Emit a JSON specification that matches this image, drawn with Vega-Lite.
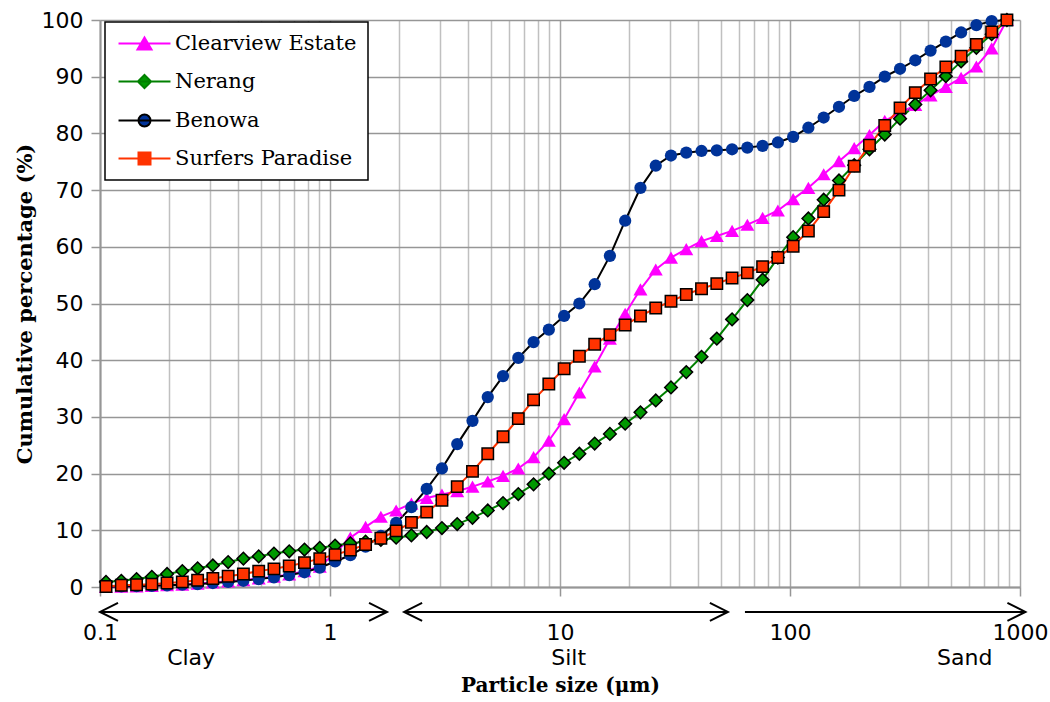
{
  "$schema": "https://vega.github.io/schema/vega-lite/v6.json",
  "width": 920,
  "height": 567,
  "autosize": "none",
  "padding": {"left": 100, "top": 20, "right": 30, "bottom": 115},
  "background": "white",
  "config": {
    "view": {"stroke": null},
    "legend": {"strokeWidth": 1.5}
  },
  "layer": [
    {
      "data": {"values": [
        {"series":"Clearview Estate","size":0.1062,"pct":0.0},{"series":"Clearview Estate","size":0.1238,"pct":0.05},{"series":"Clearview Estate","size":0.1442,"pct":0.1},{"series":"Clearview Estate","size":0.168,"pct":0.2},{"series":"Clearview Estate","size":0.1957,"pct":0.3},{"series":"Clearview Estate","size":0.228,"pct":0.4},{"series":"Clearview Estate","size":0.2657,"pct":0.6},{"series":"Clearview Estate","size":0.3095,"pct":0.8},{"series":"Clearview Estate","size":0.3607,"pct":1.0},{"series":"Clearview Estate","size":0.4202,"pct":1.2},
        {"series":"Clearview Estate","size":0.4898,"pct":1.5},{"series":"Clearview Estate","size":0.5706,"pct":1.8},{"series":"Clearview Estate","size":0.6648,"pct":2.2},{"series":"Clearview Estate","size":0.7746,"pct":2.8},{"series":"Clearview Estate","size":0.9028,"pct":3.6},{"series":"Clearview Estate","size":1.052,"pct":6.0},{"series":"Clearview Estate","size":1.226,"pct":8.7},{"series":"Clearview Estate","size":1.428,"pct":10.6},{"series":"Clearview Estate","size":1.664,"pct":12.4},{"series":"Clearview Estate","size":1.939,"pct":13.5},
        {"series":"Clearview Estate","size":2.259,"pct":14.7},{"series":"Clearview Estate","size":2.633,"pct":15.7},{"series":"Clearview Estate","size":3.067,"pct":16.3},{"series":"Clearview Estate","size":3.574,"pct":16.9},{"series":"Clearview Estate","size":4.164,"pct":17.7},{"series":"Clearview Estate","size":4.852,"pct":18.6},{"series":"Clearview Estate","size":5.653,"pct":19.6},{"series":"Clearview Estate","size":6.587,"pct":20.9},{"series":"Clearview Estate","size":7.674,"pct":22.9},{"series":"Clearview Estate","size":8.942,"pct":25.8},
        {"series":"Clearview Estate","size":10.42,"pct":29.6},{"series":"Clearview Estate","size":12.14,"pct":34.3},{"series":"Clearview Estate","size":14.15,"pct":38.9},{"series":"Clearview Estate","size":16.48,"pct":43.8},{"series":"Clearview Estate","size":19.2,"pct":48.2},{"series":"Clearview Estate","size":22.38,"pct":52.5},{"series":"Clearview Estate","size":26.08,"pct":56.0},{"series":"Clearview Estate","size":30.38,"pct":58.1},{"series":"Clearview Estate","size":35.4,"pct":59.6},{"series":"Clearview Estate","size":41.24,"pct":61.0},
        {"series":"Clearview Estate","size":48.06,"pct":61.9},{"series":"Clearview Estate","size":56.0,"pct":62.8},{"series":"Clearview Estate","size":65.25,"pct":63.9},{"series":"Clearview Estate","size":76.02,"pct":65.1},{"series":"Clearview Estate","size":88.58,"pct":66.4},{"series":"Clearview Estate","size":103.2,"pct":68.4},{"series":"Clearview Estate","size":120.2,"pct":70.4},{"series":"Clearview Estate","size":140.1,"pct":72.8},{"series":"Clearview Estate","size":163.3,"pct":75.1},{"series":"Clearview Estate","size":190.2,"pct":77.4},
        {"series":"Clearview Estate","size":221.6,"pct":79.7},{"series":"Clearview Estate","size":258.2,"pct":82.2},{"series":"Clearview Estate","size":300.9,"pct":83.6},{"series":"Clearview Estate","size":350.6,"pct":85.0},{"series":"Clearview Estate","size":408.5,"pct":86.7},{"series":"Clearview Estate","size":476.0,"pct":88.2},{"series":"Clearview Estate","size":554.6,"pct":89.8},{"series":"Clearview Estate","size":646.1,"pct":91.8},{"series":"Clearview Estate","size":753.0,"pct":95.0},{"series":"Clearview Estate","size":877.3,"pct":100},

        {"series":"Nerang","size":0.1062,"pct":0.9},{"series":"Nerang","size":0.1238,"pct":1.1},{"series":"Nerang","size":0.1442,"pct":1.4},{"series":"Nerang","size":0.168,"pct":1.8},{"series":"Nerang","size":0.1957,"pct":2.3},{"series":"Nerang","size":0.228,"pct":2.8},{"series":"Nerang","size":0.2657,"pct":3.3},{"series":"Nerang","size":0.3095,"pct":3.8},{"series":"Nerang","size":0.3607,"pct":4.4},{"series":"Nerang","size":0.4202,"pct":5.0},
        {"series":"Nerang","size":0.4898,"pct":5.4},{"series":"Nerang","size":0.5706,"pct":5.9},{"series":"Nerang","size":0.6648,"pct":6.3},{"series":"Nerang","size":0.7746,"pct":6.6},{"series":"Nerang","size":0.9028,"pct":6.9},{"series":"Nerang","size":1.052,"pct":7.3},{"series":"Nerang","size":1.226,"pct":7.7},{"series":"Nerang","size":1.428,"pct":8.0},{"series":"Nerang","size":1.664,"pct":8.3},{"series":"Nerang","size":1.939,"pct":8.7},
        {"series":"Nerang","size":2.259,"pct":9.1},{"series":"Nerang","size":2.633,"pct":9.7},{"series":"Nerang","size":3.067,"pct":10.4},{"series":"Nerang","size":3.574,"pct":11.1},{"series":"Nerang","size":4.164,"pct":12.2},{"series":"Nerang","size":4.852,"pct":13.5},{"series":"Nerang","size":5.653,"pct":14.8},{"series":"Nerang","size":6.587,"pct":16.4},{"series":"Nerang","size":7.674,"pct":18.1},{"series":"Nerang","size":8.942,"pct":20.0},
        {"series":"Nerang","size":10.42,"pct":21.9},{"series":"Nerang","size":12.14,"pct":23.5},{"series":"Nerang","size":14.15,"pct":25.3},{"series":"Nerang","size":16.48,"pct":27.0},{"series":"Nerang","size":19.2,"pct":28.8},{"series":"Nerang","size":22.38,"pct":30.8},{"series":"Nerang","size":26.08,"pct":32.9},{"series":"Nerang","size":30.38,"pct":35.2},{"series":"Nerang","size":35.4,"pct":37.9},{"series":"Nerang","size":41.24,"pct":40.6},
        {"series":"Nerang","size":48.06,"pct":43.8},{"series":"Nerang","size":56.0,"pct":47.2},{"series":"Nerang","size":65.25,"pct":50.6},{"series":"Nerang","size":76.02,"pct":54.2},{"series":"Nerang","size":88.58,"pct":58.1},{"series":"Nerang","size":103.2,"pct":61.7},{"series":"Nerang","size":120.2,"pct":65.0},{"series":"Nerang","size":140.1,"pct":68.3},{"series":"Nerang","size":163.3,"pct":71.7},{"series":"Nerang","size":190.2,"pct":74.4},
        {"series":"Nerang","size":221.6,"pct":77.2},{"series":"Nerang","size":258.2,"pct":79.8},{"series":"Nerang","size":300.9,"pct":82.6},{"series":"Nerang","size":350.6,"pct":85.1},{"series":"Nerang","size":408.5,"pct":87.6},{"series":"Nerang","size":476.0,"pct":90.1},{"series":"Nerang","size":554.6,"pct":92.7},{"series":"Nerang","size":646.1,"pct":95.1},{"series":"Nerang","size":753.0,"pct":97.5},{"series":"Nerang","size":877.3,"pct":100},

        {"series":"Benowa","size":0.1062,"pct":0.05},{"series":"Benowa","size":0.1238,"pct":0.1},{"series":"Benowa","size":0.1442,"pct":0.15},{"series":"Benowa","size":0.168,"pct":0.2},{"series":"Benowa","size":0.1957,"pct":0.3},{"series":"Benowa","size":0.228,"pct":0.4},{"series":"Benowa","size":0.2657,"pct":0.5},{"series":"Benowa","size":0.3095,"pct":0.7},{"series":"Benowa","size":0.3607,"pct":0.9},{"series":"Benowa","size":0.4202,"pct":1.1},
        {"series":"Benowa","size":0.4898,"pct":1.4},{"series":"Benowa","size":0.5706,"pct":1.7},{"series":"Benowa","size":0.6648,"pct":2.1},{"series":"Benowa","size":0.7746,"pct":2.6},{"series":"Benowa","size":0.9028,"pct":3.4},{"series":"Benowa","size":1.052,"pct":4.5},{"series":"Benowa","size":1.226,"pct":5.6},{"series":"Benowa","size":1.428,"pct":7.1},{"series":"Benowa","size":1.664,"pct":9.0},{"series":"Benowa","size":1.939,"pct":11.3},
        {"series":"Benowa","size":2.259,"pct":14.1},{"series":"Benowa","size":2.633,"pct":17.3},{"series":"Benowa","size":3.067,"pct":20.9},{"series":"Benowa","size":3.574,"pct":25.2},{"series":"Benowa","size":4.164,"pct":29.3},{"series":"Benowa","size":4.852,"pct":33.5},{"series":"Benowa","size":5.653,"pct":37.2},{"series":"Benowa","size":6.587,"pct":40.4},{"series":"Benowa","size":7.674,"pct":43.2},{"series":"Benowa","size":8.942,"pct":45.4},
        {"series":"Benowa","size":10.42,"pct":47.8},{"series":"Benowa","size":12.14,"pct":50.0},{"series":"Benowa","size":14.15,"pct":53.4},{"series":"Benowa","size":16.48,"pct":58.4},{"series":"Benowa","size":19.2,"pct":64.6},{"series":"Benowa","size":22.38,"pct":70.4},{"series":"Benowa","size":26.08,"pct":74.3},{"series":"Benowa","size":30.38,"pct":76.1},{"series":"Benowa","size":35.4,"pct":76.6},{"series":"Benowa","size":41.24,"pct":76.9},
        {"series":"Benowa","size":48.06,"pct":77.0},{"series":"Benowa","size":56.0,"pct":77.2},{"series":"Benowa","size":65.25,"pct":77.5},{"series":"Benowa","size":76.02,"pct":77.8},{"series":"Benowa","size":88.58,"pct":78.4},{"series":"Benowa","size":103.2,"pct":79.4},{"series":"Benowa","size":120.2,"pct":81.0},{"series":"Benowa","size":140.1,"pct":82.8},{"series":"Benowa","size":163.3,"pct":84.7},{"series":"Benowa","size":190.2,"pct":86.6},
        {"series":"Benowa","size":221.6,"pct":88.2},{"series":"Benowa","size":258.2,"pct":90.0},{"series":"Benowa","size":300.9,"pct":91.4},{"series":"Benowa","size":350.6,"pct":92.9},{"series":"Benowa","size":408.5,"pct":94.6},{"series":"Benowa","size":476.0,"pct":96.2},{"series":"Benowa","size":554.6,"pct":97.8},{"series":"Benowa","size":646.1,"pct":99.1},{"series":"Benowa","size":753.0,"pct":99.8},{"series":"Benowa","size":877.3,"pct":100},

        {"series":"Surfers Paradise","size":0.1062,"pct":0.1},{"series":"Surfers Paradise","size":0.1238,"pct":0.3},{"series":"Surfers Paradise","size":0.1442,"pct":0.4},{"series":"Surfers Paradise","size":0.168,"pct":0.5},{"series":"Surfers Paradise","size":0.1957,"pct":0.7},{"series":"Surfers Paradise","size":0.228,"pct":0.9},{"series":"Surfers Paradise","size":0.2657,"pct":1.2},{"series":"Surfers Paradise","size":0.3095,"pct":1.5},{"series":"Surfers Paradise","size":0.3607,"pct":1.9},{"series":"Surfers Paradise","size":0.4202,"pct":2.3},
        {"series":"Surfers Paradise","size":0.4898,"pct":2.8},{"series":"Surfers Paradise","size":0.5706,"pct":3.2},{"series":"Surfers Paradise","size":0.6648,"pct":3.7},{"series":"Surfers Paradise","size":0.7746,"pct":4.3},{"series":"Surfers Paradise","size":0.9028,"pct":5.0},{"series":"Surfers Paradise","size":1.052,"pct":5.7},{"series":"Surfers Paradise","size":1.226,"pct":6.5},{"series":"Surfers Paradise","size":1.428,"pct":7.5},{"series":"Surfers Paradise","size":1.664,"pct":8.6},{"series":"Surfers Paradise","size":1.939,"pct":9.9},
        {"series":"Surfers Paradise","size":2.259,"pct":11.4},{"series":"Surfers Paradise","size":2.633,"pct":13.2},{"series":"Surfers Paradise","size":3.067,"pct":15.3},{"series":"Surfers Paradise","size":3.574,"pct":17.7},{"series":"Surfers Paradise","size":4.164,"pct":20.4},{"series":"Surfers Paradise","size":4.852,"pct":23.5},{"series":"Surfers Paradise","size":5.653,"pct":26.5},{"series":"Surfers Paradise","size":6.587,"pct":29.7},{"series":"Surfers Paradise","size":7.674,"pct":33.0},{"series":"Surfers Paradise","size":8.942,"pct":35.8},
        {"series":"Surfers Paradise","size":10.42,"pct":38.5},{"series":"Surfers Paradise","size":12.14,"pct":40.7},{"series":"Surfers Paradise","size":14.15,"pct":42.8},{"series":"Surfers Paradise","size":16.48,"pct":44.5},{"series":"Surfers Paradise","size":19.2,"pct":46.2},{"series":"Surfers Paradise","size":22.38,"pct":47.8},{"series":"Surfers Paradise","size":26.08,"pct":49.2},{"series":"Surfers Paradise","size":30.38,"pct":50.4},{"series":"Surfers Paradise","size":35.4,"pct":51.6},{"series":"Surfers Paradise","size":41.24,"pct":52.6},
        {"series":"Surfers Paradise","size":48.06,"pct":53.5},{"series":"Surfers Paradise","size":56.0,"pct":54.5},{"series":"Surfers Paradise","size":65.25,"pct":55.4},{"series":"Surfers Paradise","size":76.02,"pct":56.5},{"series":"Surfers Paradise","size":88.58,"pct":58.1},{"series":"Surfers Paradise","size":103.2,"pct":60.1},{"series":"Surfers Paradise","size":120.2,"pct":62.8},{"series":"Surfers Paradise","size":140.1,"pct":66.2},{"series":"Surfers Paradise","size":163.3,"pct":70.0},{"series":"Surfers Paradise","size":190.2,"pct":74.2},
        {"series":"Surfers Paradise","size":221.6,"pct":77.9},{"series":"Surfers Paradise","size":258.2,"pct":81.4},{"series":"Surfers Paradise","size":300.9,"pct":84.5},{"series":"Surfers Paradise","size":350.6,"pct":87.2},{"series":"Surfers Paradise","size":408.5,"pct":89.6},{"series":"Surfers Paradise","size":476.0,"pct":91.7},{"series":"Surfers Paradise","size":554.6,"pct":93.6},{"series":"Surfers Paradise","size":646.1,"pct":95.7},{"series":"Surfers Paradise","size":753.0,"pct":97.9},{"series":"Surfers Paradise","size":877.3,"pct":100}
      ]},
      "encoding": {
        "x": {
          "field": "size", "type": "quantitative",
          "scale": {"type": "log", "domain": [0.1, 1000], "nice": false},
          "axis": {
            "values": [0.1,0.2,0.3,0.4,0.5,0.6,0.7,0.8,0.9,1,2,3,4,5,6,7,8,9,10,20,30,40,50,60,70,80,90,100,200,300,400,500,600,700,800,900,1000],
            "format": "~g",
            "labelExpr": "indexof(['0.1','1','10','100','1000'], datum.label) >= 0 ? datum.label : ''",
            "grid": true,
            "gridColor": {"condition": {"test": "indexof([0.1,1,10,100,1000], datum.value) >= 0", "value": "#a6a6a6"}, "value": "#c0c0c0"},
            "gridWidth": 1.5,
            "tickColor": "#969696", "tickSize": 9, "tickWidth": 1.5,
            "tickOpacity": {"condition": {"test": "indexof([0.1,1,10,100,1000], datum.value) >= 0", "value": 1}, "value": 0},
            "domainColor": "#969696", "domainWidth": 2,
            "labelFont": "DejaVu Sans", "labelFontSize": 22, "labelColor": "black",
            "labelPadding": 26, "labelFlush": false, "labelOverlap": false,
            "title": "Particle size (μm)", "titleFont": "DejaVu Serif", "titleFontSize": 20,
            "titleFontWeight": "bold", "titleColor": "black", "titlePadding": 32
          }
        },
        "y": {
          "field": "pct", "type": "quantitative",
          "scale": {"domain": [0, 100], "nice": false},
          "axis": {
            "values": [0,10,20,30,40,50,60,70,80,90,100],
            "grid": true, "gridColor": "#969696", "gridWidth": 1.5,
            "tickColor": "#969696", "tickSize": 9, "tickWidth": 1.5,
            "domainColor": "#969696", "domainWidth": 2,
            "labelFont": "DejaVu Sans", "labelFontSize": 22, "labelColor": "black", "labelPadding": 8,
            "title": "Cumulative percentage (%)", "titleFont": "DejaVu Serif", "titleFontSize": 21,
            "titleFontWeight": "bold", "titleColor": "black", "titlePadding": 6
          }
        }
      },
      "layer": [
        {
          "mark": {"type": "line", "strokeWidth": 2},
          "encoding": {
            "stroke": {
              "field": "series", "type": "nominal",
              "scale": {"domain": ["Clearview Estate", "Nerang", "Benowa", "Surfers Paradise"], "range": ["#FF00FF", "#008000", "#000000", "#FF3300"]},
              "legend": {
                "orient": "none", "legendX": 5, "legendY": 2, "title": null,
                "fillColor": "white", "strokeColor": "black", "padding": 11,
                "labelFont": "DejaVu Serif", "labelFontSize": 21, "labelColor": "black", "labelLimit": 400,
                "rowPadding": 16, "symbolSize": 144, "symbolOffset": 18, "labelOffset": 20,
                "encode": {"symbols": {"update": {
                  "shape": {"signal": "datum.value === 'Clearview Estate' ? 'M-4.33,0L4.33,0M0,-1L1.17,1L-1.17,1Z' : datum.value === 'Nerang' ? 'M-4.33,0L4.33,0M0,-1.1L1.1,0L0,1.1L-1.1,0Z' : datum.value === 'Benowa' ? 'M-4.33,0L4.33,0M1,0C1,0.552 0.552,1 0,1C-0.552,1 -1,0.552 -1,0C-1,-0.552 -0.552,-1 0,-1C0.552,-1 1,-0.552 1,0Z' : 'M-4.33,0L4.33,0M-1,-1L1,-1L1,1L-1,1Z'"},
                  "fill": {"signal": "datum.value === 'Clearview Estate' ? '#FF00FF' : datum.value === 'Nerang' ? '#009900' : datum.value === 'Benowa' ? '#003399' : '#FF3300'"},
                  "fillOpacity": {"value": 1},
                  "strokeWidth": {"value": 2},
                  "opacity": {"value": 1}
                }}}
              }
            }
          }
        },
        {
          "transform": [{"filter": {"field": "series", "equal": "Clearview Estate"}}],
          "mark": {"type": "point", "shape": "triangle-up", "filled": true, "size": 196, "fill": "#FF00FF", "strokeWidth": 0, "opacity": 1}
        },
        {
          "transform": [{"filter": {"field": "series", "equal": "Nerang"}}],
          "mark": {"type": "point", "shape": "diamond", "filled": true, "size": 160, "fill": "#009900", "stroke": "black", "strokeWidth": 1.5, "opacity": 1}
        },
        {
          "transform": [{"filter": {"field": "series", "equal": "Benowa"}}],
          "mark": {"type": "point", "shape": "circle", "filled": true, "size": 150, "fill": "#003399", "strokeWidth": 0, "opacity": 1}
        },
        {
          "transform": [{"filter": {"field": "series", "equal": "Surfers Paradise"}}],
          "mark": {"type": "point", "shape": "square", "filled": true, "size": 130, "fill": "#FF3300", "stroke": "black", "strokeWidth": 1.5, "opacity": 1}
        }
      ]
    },
    {
      "data": {"values": [
        {"zone": "Clay", "from": 0.1, "to": 1.77, "mid": 0.249},
        {"zone": "Silt", "from": 2.1, "to": 53.7, "mid": 10.9},
        {"zone": "Sand", "from": 63.7, "to": 1056, "mid": 575}
      ]},
      "layer": [
        {
          "mark": {"type": "rule", "stroke": "black", "strokeWidth": 2},
          "encoding": {
            "x": {"field": "from", "type": "quantitative", "scale": {"type": "log", "domain": [0.1, 1000], "nice": false}},
            "x2": {"field": "to"},
            "y": {"datum": -4.4, "type": "quantitative", "scale": {"domain": [0, 100], "nice": false}}
          }
        },
        {
          "transform": [{"filter": "datum.zone !== 'Sand'"}],
          "mark": {"type": "point", "shape": "M2,-1L0,0L2,1", "filled": false, "size": 324, "stroke": "black", "strokeWidth": 2, "opacity": 1},
          "encoding": {
            "x": {"field": "from", "type": "quantitative", "scale": {"type": "log", "domain": [0.1, 1000], "nice": false}},
            "y": {"datum": -4.4, "type": "quantitative", "scale": {"domain": [0, 100], "nice": false}}
          }
        },
        {
          "mark": {"type": "point", "shape": "M-2,-1L0,0L-2,1", "filled": false, "size": 324, "stroke": "black", "strokeWidth": 2, "opacity": 1},
          "encoding": {
            "x": {"field": "to", "type": "quantitative", "scale": {"type": "log", "domain": [0.1, 1000], "nice": false}},
            "y": {"datum": -4.4, "type": "quantitative", "scale": {"domain": [0, 100], "nice": false}}
          }
        },
        {
          "mark": {"type": "text", "font": "DejaVu Sans", "fontSize": 22, "color": "black", "align": "center", "baseline": "middle"},
          "encoding": {
            "x": {"field": "mid", "type": "quantitative", "scale": {"type": "log", "domain": [0.1, 1000], "nice": false}},
            "y": {"datum": -12.5, "type": "quantitative", "scale": {"domain": [0, 100], "nice": false}},
            "text": {"field": "zone"}
          }
        }
      ]
    }
  ]
}
